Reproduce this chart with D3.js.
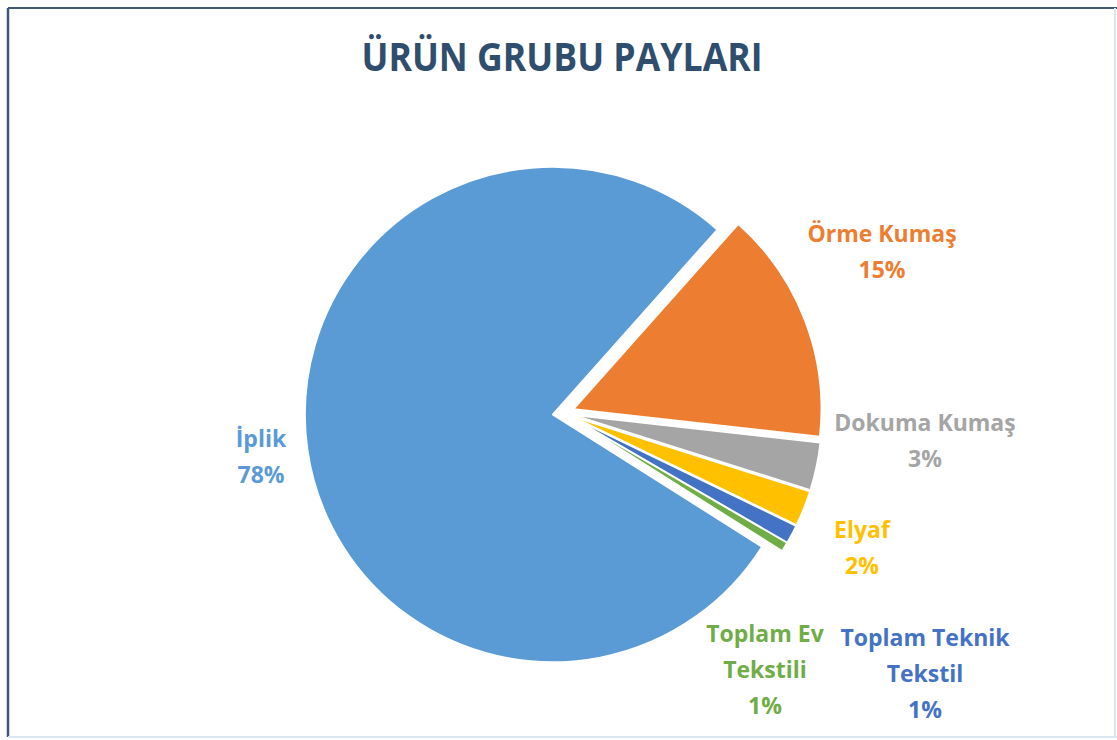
<!DOCTYPE html>
<html><head><meta charset="utf-8">
<script src="https://cdn.jsdelivr.net/npm/d3@7"></script>
<style>body{margin:0;background:#fff}svg{display:block}</style>
</head><body>
<script>
const categories = ["İplik","Örme Kumaş","Dokuma Kumaş","Elyaf","Toplam Teknik Tekstil","Toplam Ev Tekstili"];
const values = [77.6, 15.2, 3.1, 2.3, 1.2, 0.6];
const percentLabels = ["78%","15%","3%","2%","1%","1%"];
const colors = ["#5B9BD5","#ED7D31","#A5A5A5","#FFC000","#4472C4","#70AD47"];
const title = "ÜRÜN GRUBU PAYLARI";

// label layout (not data): lines and anchor positions
const labelLines = [["İplik"],["Örme Kumaş"],["Dokuma Kumaş"],["Elyaf"],["Toplam Teknik","Tekstil"],["Toplam Ev","Tekstili"]];
const labelPos = [[261,447],[882,242],[925,431],[862,538],[925,646],[765,642]];

const W=1117,H=740;
const svg=d3.select("body").append("svg").attr("width",W).attr("height",H);

// frame
svg.append("line").attr("x1",8).attr("y1",8).attr("x2",1117).attr("y2",8).attr("stroke","#3F5877").attr("stroke-width",2);
svg.append("line").attr("x1",8).attr("y1",8).attr("x2",8).attr("y2",737).attr("stroke","#3F5877").attr("stroke-width",2.5);
svg.append("line").attr("x1",8).attr("y1",737).attr("x2",1117).attr("y2",737).attr("stroke","#D9E6F2").attr("stroke-width",2);
svg.append("line").attr("x1",1115).attr("y1",8).attr("x2",1115).attr("y2",737).attr("stroke","#D9E6F2").attr("stroke-width",2);

svg.append("text").attr("x",562).attr("y",71).attr("text-anchor","middle")
  .attr("font-family","Open Sans").attr("font-weight","bold").attr("font-size",39)
  .attr("fill","#2F4E6E").attr("textLength",401).attr("lengthAdjust","spacingAndGlyphs").text(title);

const cx=563.5, cy=413, R=247.5, explode=11;
const start = 122.3*Math.PI/180;
const pie=d3.pie().sort(null).startAngle(start).endAngle(start+2*Math.PI);
const arcs=pie(values);
const arc=d3.arc().innerRadius(0).outerRadius(R);
const g=svg.append("g").attr("transform",`translate(${cx},${cy})`);
g.selectAll("path").data(arcs).join("path")
  .attr("d",arc)
  .attr("fill",(d,i)=>colors[i])
  .attr("stroke","#fff").attr("stroke-width",1.5).attr("stroke-linejoin","round")
  .attr("transform",d=>{const a=(d.startAngle+d.endAngle)/2;return `translate(${explode*Math.sin(a)},${-explode*Math.cos(a)})`;});

categories.forEach((c,i)=>{
  const lines=labelLines[i].concat([percentLabels[i]]);
  const t=svg.append("text").attr("text-anchor","middle").attr("font-family","Open Sans")
    .attr("font-weight","bold").attr("font-size",23).attr("fill",colors[i]);
  lines.forEach((l,j)=>{
    t.append("tspan").attr("x",labelPos[i][0]).attr("y",labelPos[i][1]+j*36).text(l);
  });
});
</script>
</body></html>
